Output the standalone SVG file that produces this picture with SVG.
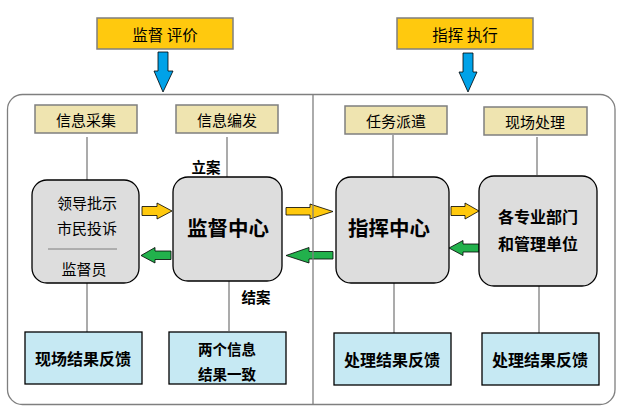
<svg xmlns="http://www.w3.org/2000/svg" width="637" height="412" viewBox="0 0 637 412">
<style>
text{font-family:"Noto Sans CJK SC","Noto Sans",sans-serif;text-anchor:middle;dominant-baseline:central;fill:#000}
.top{fill:#FFC90E;stroke:#7F7F7F;stroke-width:1.5}
.beige{fill:#EFE4B0;stroke:#7F7F7F;stroke-width:1.5}
.gray{fill:#DDDDDD;stroke:#000;stroke-width:1.3}
.blue{fill:#C6E9F3;stroke:#000;stroke-width:1.3}
.ln{stroke:#7F7F7F;stroke-width:1.3;fill:none}
.ya{fill:#FFC90E;stroke:#000;stroke-width:0.8}
.ga{fill:#22B14C;stroke:#000;stroke-width:0.8}
.da{fill:#00A2E8;stroke:#000;stroke-width:0.8}
.b{font-weight:bold}
</style>
<rect width="637" height="412" fill="#fff"/>
<rect x="7.5" y="94.5" width="607.5" height="310" rx="15" ry="15" fill="none" stroke="#7F7F7F" stroke-width="1.3"/>
<g id="top1"><rect class="top" x="97" y="18" width="136" height="31"/><text x="165" y="34" font-size="15.5">监督 评价</text></g>
<g id="top2"><rect class="top" x="397" y="18" width="136" height="31"/><text x="465" y="34" font-size="15.5">指挥 执行</text></g>
<g id="collect"><rect class="beige" x="35" y="105" width="102" height="28"/><text x="86" y="119" font-size="15">信息采集</text></g>
<g id="publish"><rect class="beige" x="176" y="105" width="102" height="28"/><text x="227" y="119" font-size="15">信息编发</text></g>
<g id="dispatch"><rect class="beige" x="345" y="106" width="102" height="28"/><text x="396" y="120" font-size="15">任务派遣</text></g>
<g id="handle"><rect class="beige" x="484" y="107" width="103" height="28"/><text x="535" y="121" font-size="15">现场处理</text></g>
<g id="connectors">
<path class="ln" d="M87 137V180M227 137V177M393 135V177M537 137V175M87 283V332M229 281V331M394 283V333M539 286V333"/>
<polygon class="da" points="158,52 168,52 168,71 173,71 163,92 154,71 158,71"/>
<polygon class="da" points="463,53 473,53 473,72 477,72 468,92 459,72 463,72"/>
<polygon class="ya" points="142,206.5 157,206.5 157,203 172,211 157,219 157,215.5 142,215.5"/>
<polygon class="ya" points="286,207.5 310,207.5 310,204 333,211.5 310,219 310,215 286,215"/>
<polygon class="ya" points="451,206.5 465,206.5 465,203 479,211 465,219 465,215.5 451,215.5"/>
<polygon class="ga" points="171,251 155,251 155,247.5 141,255.5 155,263 155,259.5 171,259.5"/>
<polygon class="ga" points="333,251.5 309,251.5 309,247.5 286,255.5 309,263 309,259 333,259"/>
<polygon class="ga" points="479,244 463,244 463,240.5 449,248 463,255.5 463,252 479,252"/>
</g>
<line x1="313" y1="94.5" x2="313" y2="404.5" stroke="#7F7F7F" stroke-width="1.3"/>
<g id="sources"><rect class="gray" x="32" y="180" width="107" height="103" rx="15" ry="15"/>
<text x="87" y="202" font-size="15">领导批示</text><text x="87" y="227" font-size="15">市民投诉</text>
<line x1="48" y1="249" x2="117" y2="249" stroke="#7F7F7F" stroke-width="1"/>
<text x="84" y="268" font-size="15">监督员</text></g>
<g id="supervise"><rect class="gray" x="173" y="177" width="109" height="104" rx="15" ry="15"/><text class="b" x="228" y="227" font-size="20.5">监督中心</text></g>
<g id="command"><rect class="gray" x="336" y="177" width="113" height="106" rx="15" ry="15"/><text class="b" x="389" y="227" font-size="20.5">指挥中心</text></g>
<g id="depts"><rect class="gray" x="479" y="176" width="118" height="110" rx="15" ry="15"/><text class="b" x="538" y="216" font-size="16">各专业部门</text><text class="b" x="538" y="243" font-size="16">和管理单位</text></g>
<g id="labels"><text class="b" x="206" y="166" font-size="14.5">立案</text><text class="b" x="256" y="296" font-size="14.5">结案</text></g>
<g id="fb1"><rect class="blue" x="25" y="332" width="117" height="52"/><text class="b" x="83" y="358" font-size="16">现场结果反馈</text></g>
<g id="fb2"><rect class="blue" x="169" y="332" width="117" height="52"/><text class="b" x="227" y="348" font-size="14.5">两个信息</text><text class="b" x="227" y="373" font-size="14.5">结果一致</text></g>
<g id="fb3"><rect class="blue" x="334" y="333" width="117" height="52"/><text class="b" x="392" y="359" font-size="16">处理结果反馈</text></g>
<g id="fb4"><rect class="blue" x="482" y="333" width="117" height="52"/><text class="b" x="540" y="359" font-size="16">处理结果反馈</text></g>
</svg>
